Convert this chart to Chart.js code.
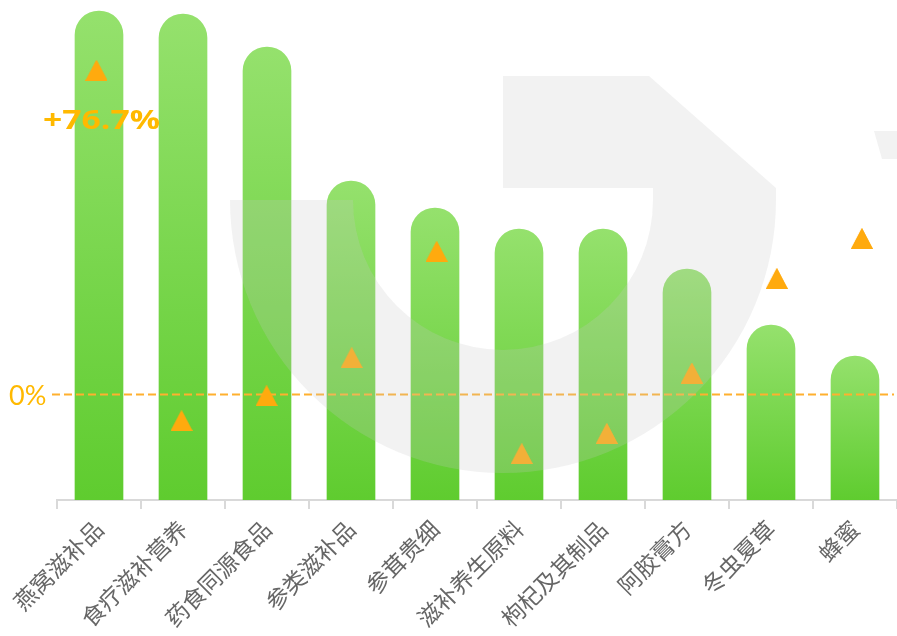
<!DOCTYPE html>
<html>
<head>
<meta charset="utf-8">
<script src="https://cdn.jsdelivr.net/npm/chart.js@4.4.1/dist/chart.umd.min.js"></script>
<style>
  html, body { margin: 0; padding: 0; background: #ffffff; }
  #wrap { width: 897px; height: 636px; position: relative; }
</style>
</head>
<body>
<div id="wrap"><canvas id="c" width="897" height="636"></canvas></div>
<script>
// ---- data ----
const categories = ['燕窝滋补品', '食疗滋补营养', '药食同源食品', '参类滋补品', '参茸贵细', '滋补养生原料', '枸杞及其制品', '阿胶膏方', '冬虫夏草', '蜂蜜'];
const salesValues = [48.9, 48.6, 45.3, 31.9, 29.2, 27.1, 27.1, 23.1, 17.5, 14.4];
const growthRates = [76.7, -6.3, -0.4, 8.6, 33.8, -14.1, -9.3, 5.0, 27.4, 36.9];
const highlightLabel = '+76.7%';
const zeroLabel = '0%';

// triangle marker image
function makeTriangle(w, h, color) {
  const cv = document.createElement('canvas');
  cv.width = w; cv.height = h;
  const c = cv.getContext('2d');
  c.fillStyle = color;
  c.beginPath();
  c.moveTo(w / 2, 0);
  c.lineTo(w, h);
  c.lineTo(0, h);
  c.closePath();
  c.fill();
  return cv;
}
const tri = makeTriangle(22, 21, '#FFAA0E');

function dashed(chart) {
  const ctx = chart.ctx;
  const yz = Math.round(chart.scales.y1.getPixelForValue(0)) + 0.5;
  ctx.save();
  ctx.strokeStyle = '#FFB02E';
  ctx.lineWidth = 2;
  ctx.setLineDash([8, 4]);
  ctx.beginPath();
  ctx.moveTo(52, yz);
  ctx.lineTo(894, yz);
  ctx.stroke();
  ctx.restore();
}

const overlayPlugin = {
  id: 'overlay',
  afterDatasetsDraw(chart) {
    const ctx = chart.ctx;
    const yz = chart.scales.y1.getPixelForValue(0);
    dashed(chart);
    // triangles above the dashed line
    const meta = chart.getDatasetMeta(1);
    meta.data.forEach(p => { ctx.drawImage(tri, p.x - 11, p.y - 10.5); });
    // labels
    ctx.save();
    ctx.fillStyle = '#FFB900';
    ctx.font = '27px Lato, "Noto Sans", sans-serif';
    ctx.textAlign = 'left';
    ctx.textBaseline = 'middle';
    ctx.fillText(zeroLabel, 9, yz + 2);
    const p0 = meta.data[0];
    ctx.font = 'bold 26px "Open Sans", "Noto Sans", sans-serif';
    ctx.textAlign = 'center';
    const w = ctx.measureText(highlightLabel).width;
    const sx = Math.min(1.35, 117 / w);
    ctx.translate(p0.x + 5, p0.y + 51);
    ctx.scale(sx, 1);
    ctx.fillText(highlightLabel, 0, 0);
    ctx.restore();
  },
  afterDraw(chart) {
    // light watermark over the plot
    const ctx = chart.ctx;
    ctx.save();
    ctx.fillStyle = 'rgba(198,198,198,0.23)';
    ctx.beginPath();
    ctx.moveTo(230, 200);
    ctx.arc(503, 200, 273, Math.PI, 0, true);
    ctx.lineTo(776, 188);
    ctx.lineTo(649, 76);
    ctx.lineTo(503, 76);
    ctx.lineTo(503, 188);
    ctx.lineTo(653, 188);
    ctx.lineTo(653, 200);
    ctx.arc(503, 200, 150, 0, Math.PI, false);
    ctx.closePath();
    ctx.fill();
    ctx.beginPath();
    ctx.moveTo(874, 131);
    ctx.lineTo(897, 131);
    ctx.lineTo(897, 159);
    ctx.lineTo(882, 159);
    ctx.closePath();
    ctx.fill();
    ctx.restore();
  }
};

new Chart(document.getElementById('c'), {
  data: {
    labels: categories,
    datasets: [
      {
        type: 'bar',
        label: '销售额',
        data: salesValues,
        xAxisID: 'x',
        yAxisID: 'y',
        order: 2,
        grouped: false,
        barThickness: 48,
        maxBarThickness: 48,
        borderRadius: { topLeft: 24, topRight: 24, bottomLeft: 0, bottomRight: 0 },
        borderSkipped: false,
        backgroundColor: (context) => {
          const chart = context.chart;
          const area = chart.chartArea;
          if (!area) return '#7dd650';
          const top = chart.scales.y.getPixelForValue(context.raw);
          const g = chart.ctx.createLinearGradient(0, top, 0, area.bottom);
          g.addColorStop(0, '#95E16D');
          g.addColorStop(1, '#5FCC2F');
          return g;
        }
      },
      {
        type: 'line',
        label: '增长率',
        data: growthRates.map((v, i) => ({ x: i, y: v })),
        xAxisID: 'x2',
        yAxisID: 'y1',
        order: 1,
        showLine: false,
        pointStyle: tri,
        pointRadius: 11,
        pointHoverRadius: 11
      }
    ]
  },
  options: {
    responsive: false,
    animation: false,
    events: [],
    layout: { autoPadding: false, padding: { left: 57, right: 0, top: 0, bottom: 0 } },
    plugins: { legend: { display: false }, tooltip: { enabled: false } },
    scales: {
      x: {
        offset: true,
        grid: { display: true, offset: true, drawOnChartArea: false, tickLength: 9, color: '#D9D9D9', lineWidth: 2 },
        border: { display: true, color: '#D9D9D9', width: 2 },
        ticks: {
          autoSkip: false,
          maxRotation: 45,
          minRotation: 45,
          padding: 6,
          color: '#666666',
          font: { size: 23, family: '"Noto Sans CJK SC", sans-serif' }
        },
        afterFit(scale) { scale.height = 136; scale.paddingLeft = 0; scale.paddingRight = 0; }
      },
      x2: { type: 'linear', display: false, min: -0.4644, max: 9.4126 },
      y: { display: false, min: 0, max: 50 },
      y1: { display: false, min: -25.04, max: 93.4 }
    }
  },
  plugins: [overlayPlugin]
});
</script>
</body>
</html>
